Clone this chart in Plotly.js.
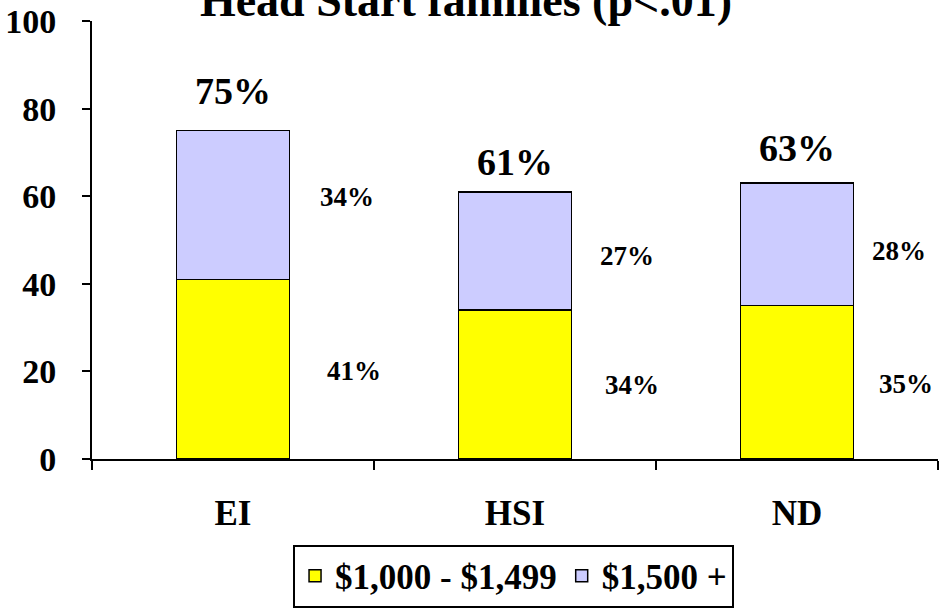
<!DOCTYPE html>
<html><head><meta charset="utf-8">
<script src="https://cdn.plot.ly/plotly-3.0.1.min.js"></script>
<style>html,body{margin:0;padding:0;background:#fff}</style>
</head><body><div id="chart" style="width:951px;height:610px"></div>
<script>
const categories = ["EI", "HSI", "ND"];
const low = [41, 34, 35];     // $1,000 - $1,499
const high = [34, 27, 28];    // $1,500 +
const totals = [75, 61, 63];
const seriesNames = ["$1,000 - $1,499", "$1,500 +"];

const font = {family: "Liberation Serif, Times New Roman, serif", color: "#000"};
const traces = [
  {type: "bar", x: categories, y: low, name: seriesNames[0], width: 0.4,
   marker: {color: "#FFFF00", line: {color: "#000", width: 1.5}}, hoverinfo: "none"},
  {type: "bar", x: categories, y: high, name: seriesNames[1], width: 0.4,
   marker: {color: "#CCCCFF", line: {color: "#000", width: 1.5}}, hoverinfo: "none"}
];
const ann = [];
const lowShift = [121, 117, 109];
const highShift = [114, 112, 102];
const totYShift = [40, 30, 35];
const highYShift = [8, -5, -7];
const lowYShift = [-2, 0, -2];
categories.forEach((c, i) => {
  ann.push({x: c, y: totals[i], yanchor: "middle", yshift: totYShift[i], text: totals[i] + "%", showarrow: false,
    font: {...font, size: 38, weight: "bold"}});
  ann.push({x: c, y: low[i] + high[i] / 2, yshift: highYShift[i], xshift: highShift[i], text: high[i] + "%", showarrow: false,
    font: {...font, size: 27, weight: "bold"}});
  ann.push({x: c, y: low[i] / 2, yshift: lowYShift[i], xshift: lowShift[i], text: low[i] + "%", showarrow: false,
    font: {...font, size: 27, weight: "bold"}});
});
const layout = {
  width: 951, height: 610,
  margin: {l: 92, r: 13, t: 21, b: 151},
  barmode: "stack",
  paper_bgcolor: "#fff", plot_bgcolor: "#fff",
  font: font,
  title: {text: "Head Start families (p<.01)", x: 0.49, xanchor: "center", y: 1, yref: "container", yanchor: "middle",
    font: {...font, size: 46, weight: "bold"}, automargin: false},
  xaxis: {type: "category", showline: true, linecolor: "#000", linewidth: 2, ticks: "outside", tickson: "boundaries",
    ticklen: 9, tickwidth: 2, tickcolor: "#000", showgrid: false, ticklabelstandoff: 22, automargin: false,
    tickfont: {...font, size: 35, weight: "bold"}},
  yaxis: {range: [0, 100], dtick: 20, showline: true, linecolor: "#000", linewidth: 2, ticks: "outside",
    ticklen: 8, tickwidth: 2, tickcolor: "#000", showgrid: false, zeroline: false, ticklabelstandoff: 19, automargin: false,
    tickfont: {...font, size: 34, weight: "bold"}},
  showlegend: true,
  legend: {orientation: "h", x: 0.54, xref: "container", xanchor: "center", y: 0.004, yref: "container", yanchor: "bottom",
    bordercolor: "#000", borderwidth: 2, font: {...font, size: 35, weight: "bold"}, traceorder: "normal",
    itemwidth: 30, tracegroupgap: 0},
  annotations: ann
};
Plotly.newPlot("chart", traces, layout, {displayModeBar: false, staticPlot: true});
</script></body></html>
